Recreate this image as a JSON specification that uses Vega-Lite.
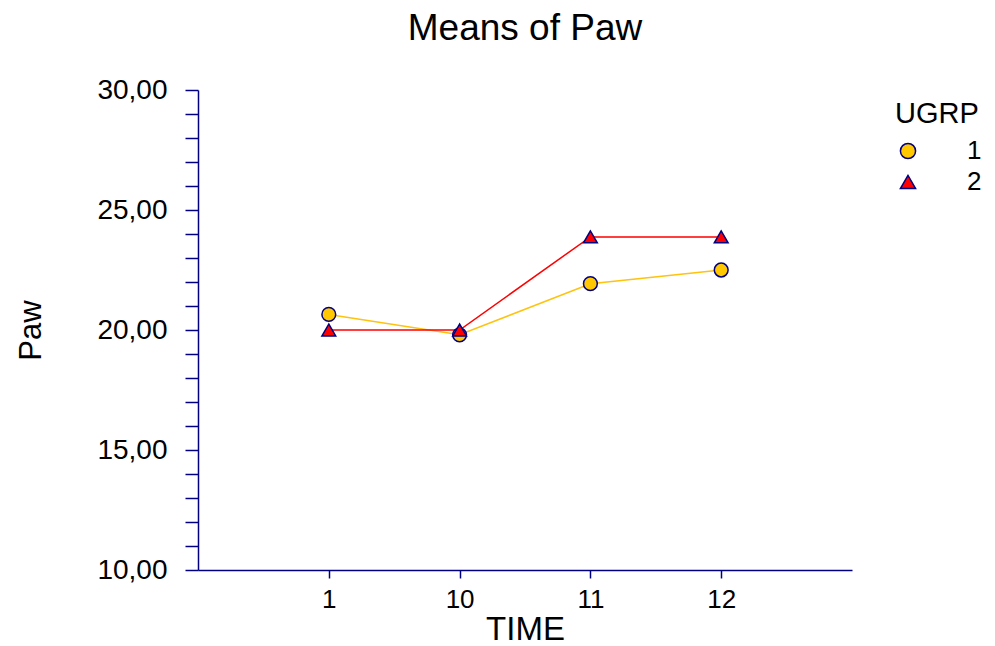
{
  "$schema": "https://vega.github.io/schema/vega-lite/v6.json",
  "autosize": "none",
  "width": 654,
  "height": 480,
  "padding": {"left": 198, "top": 90, "right": 143, "bottom": 76},
  "background": "white",
  "title": {
    "text": "Means of Paw",
    "font": "Liberation Sans",
    "fontSize": 37,
    "fontWeight": "normal",
    "color": "black",
    "anchor": "middle",
    "frame": "group",
    "offset": 28
  },
  "data": {
    "values": [
      {"TIME": "1", "UGRP": "1", "Paw": 20.65},
      {"TIME": "10", "UGRP": "1", "Paw": 19.8},
      {"TIME": "11", "UGRP": "1", "Paw": 21.93},
      {"TIME": "12", "UGRP": "1", "Paw": 22.5},
      {"TIME": "1", "UGRP": "2", "Paw": 20.0},
      {"TIME": "10", "UGRP": "2", "Paw": 20.0},
      {"TIME": "11", "UGRP": "2", "Paw": 23.88},
      {"TIME": "12", "UGRP": "2", "Paw": 23.88}
    ]
  },
  "encoding": {
    "x": {
      "field": "TIME",
      "type": "ordinal",
      "sort": ["1", "10", "11", "12"],
      "scale": {"type": "point", "padding": 1},
      "axis": {
        "title": "TIME",
        "labelAngle": 0,
        "tickSize": 8,
        "labelPadding": 8,
        "titlePadding": 1,
        "labelFontSize": 26,
        "titleFontSize": 33
      }
    },
    "y": {
      "field": "Paw",
      "type": "quantitative",
      "scale": {"domain": [10, 30], "nice": false, "zero": false},
      "axis": {
        "title": "Paw",
        "values": [10, 11, 12, 13, 14, 15, 16, 17, 18, 19, 20, 21, 22, 23, 24, 25, 26, 27, 28, 29, 30],
        "labelExpr": "datum.value % 5 === 0 ? replace(format(datum.value, '.2f'), '.', ',') : ''",
        "tickSize": 13,
        "labelPadding": 18,
        "labelFontSize": 28,
        "titleFontSize": 31,
        "titleX": -167,
        "titleY": 240,
        "titleAngle": -90,
        "titleAlign": "center",
        "titleBaseline": "middle"
      }
    }
  },
  "layer": [
    {
      "mark": {"type": "line", "strokeWidth": 1.5},
      "encoding": {
        "color": {
          "field": "UGRP",
          "type": "nominal",
          "scale": {"range": ["#FFC20E", "#FF0000"]},
          "legend": null
        }
      }
    },
    {
      "mark": {
        "type": "point",
        "filled": true,
        "size": 190,
        "opacity": 1,
        "stroke": "#000080",
        "strokeWidth": 1.5
      },
      "encoding": {
        "fill": {
          "field": "UGRP",
          "type": "nominal",
          "scale": {"range": ["#FFC800", "#FF0000"]},
          "legend": {
            "title": "UGRP",
            "orient": "none",
            "legendX": 697,
            "legendY": 10,
            "encode": {
              "symbols": {
                "update": {
                  "stroke": {"value": "#000080"},
                  "strokeWidth": {"value": 1.5},
                  "opacity": {"value": 1}
                }
              }
            }
          }
        },
        "shape": {
          "field": "UGRP",
          "type": "nominal",
          "scale": {"range": ["circle", "triangle-up"]},
          "legend": {
            "title": "UGRP",
            "orient": "none",
            "legendX": 697,
            "legendY": 10
          }
        }
      }
    }
  ],
  "config": {
    "view": {"stroke": null},
    "font": "Liberation Sans",
    "axis": {
      "grid": false,
      "domainColor": "#000080",
      "domainWidth": 1.5,
      "tickColor": "#000080",
      "tickWidth": 1.5,
      "labelColor": "black",
      "titleColor": "black",
      "labelFont": "Liberation Sans",
      "titleFont": "Liberation Sans",
      "titleFontWeight": "normal"
    },
    "legend": {
      "padding": 0,
      "titleFont": "Liberation Sans",
      "titleFontSize": 29,
      "titleFontWeight": "normal",
      "titleColor": "black",
      "titlePadding": 9,
      "labelFont": "Liberation Sans",
      "labelFontSize": 26,
      "labelColor": "black",
      "labelOffset": 46,
      "rowPadding": 5,
      "symbolSize": 230,
      "symbolStrokeColor": "#000080",
      "symbolStrokeWidth": 1.5,
      "symbolOpacity": 1
    }
  }
}
